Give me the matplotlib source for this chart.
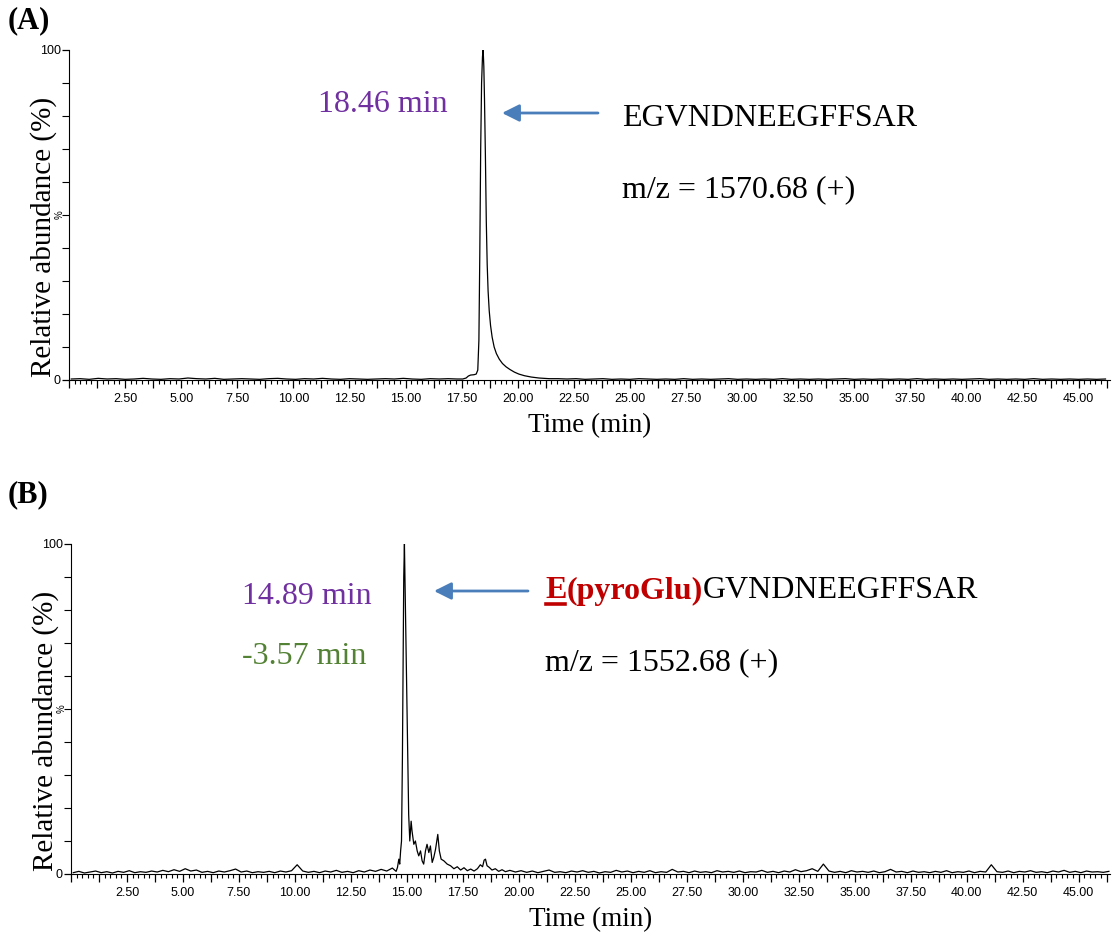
import numpy as np
import matplotlib
matplotlib.use("Agg")
import matplotlib.pyplot as plt
from matplotlib.ticker import MultipleLocator, FuncFormatter
from matplotlib.lines import Line2D
from matplotlib.patches import FancyArrowPatch
from matplotlib.text import Annotation

# ---------------- data ----------------
# (A) EGVNDNEEGFFSAR, baseline before / after the peak (0.4 min scans)
a_pre_start, a_pre_step = 0.1, 0.4
a_pre = [0.3, 0.4, 0.2, 0.5, 0.3, 0.4, 0.2, 0.3, 0.5, 0.3, 0.2, 0.4,
         0.3, 0.6, 0.4, 0.3, 0.5, 0.2, 0.3, 0.4, 0.3, 0.2, 0.4, 0.5,
         0.3, 0.2, 0.4, 0.3, 0.5, 0.3, 0.2, 0.4, 0.3, 0.2, 0.3, 0.4,
         0.3, 0.5, 0.3, 0.2, 0.4, 0.3, 0.4, 0.3]
a_peak_t = [17.55, 17.70, 17.80, 17.90, 18.05, 18.15, 18.22, 18.27, 18.31,
            18.35, 18.39, 18.43, 18.46, 18.49, 18.52, 18.56, 18.60, 18.64,
            18.68, 18.73, 18.79, 18.86, 18.95, 19.05, 19.18, 19.32, 19.48,
            19.65, 19.85, 20.05, 20.30, 20.60, 20.95, 21.40]
a_peak_y = [0.3, 0.6, 1.2, 1.5, 1.6, 1.8, 3.0, 12.0, 38.0,
            70.0, 90.0, 98.0, 100.0, 95.0, 85.0, 68.0, 48.0, 35.0,
            27.0, 21.0, 16.5, 13.0, 10.0, 8.0, 6.3, 5.0, 4.0,
            3.2, 2.4, 1.8, 1.3, 0.9, 0.6, 0.4]
a_post_start, a_post_step = 21.8, 0.4
a_post = [0.4, 0.3, 0.4, 0.2, 0.3, 0.4, 0.2, 0.3, 0.2, 0.4, 0.3, 0.2,
          0.3, 0.2, 0.4, 0.2, 0.3, 0.2, 0.3, 0.4, 0.2, 0.3, 0.2, 0.3,
          0.2, 0.4, 0.2, 0.3, 0.2, 0.3, 0.2, 0.3, 0.4, 0.2, 0.3, 0.2,
          0.3, 0.2, 0.3, 0.2, 0.4, 0.2, 0.3, 0.2, 0.3, 0.2, 0.3, 0.4,
          0.2, 0.3, 0.2, 0.3, 0.2, 0.4, 0.2, 0.3, 0.2, 0.3, 0.2, 0.3,
          0.2, 0.3]

# (B) E(pyroGlu)GVNDNEEGFFSAR (0.25 min scans on the baseline)
b_pre_start, b_pre_step = 0.1, 0.25
b_pre = [0.4, 0.8, 0.3, 0.6, 0.9, 0.4, 0.7, 0.3, 0.8, 0.5, 1.0, 0.4,
         0.7, 0.5, 0.9, 0.6, 1.1, 0.7, 1.3, 0.8, 1.6, 0.9, 1.2, 0.5,
         0.8, 0.4, 0.9, 0.6, 1.0, 1.5, 0.6, 0.9, 0.4, 0.7, 0.5, 0.8,
         0.4, 0.9, 0.6, 1.0, 2.8, 0.9, 0.5, 0.8, 0.4, 0.9, 0.6, 1.1,
         0.5, 0.8, 0.4, 1.0, 0.6, 1.2, 0.8, 1.4, 0.9, 1.8]
b_peak_t = [14.45, 14.52, 14.58, 14.64, 14.68, 14.72, 14.76, 14.80, 14.83,
            14.86, 14.89, 14.92, 14.95, 14.98, 15.03, 15.08, 15.13, 15.19,
            15.23, 15.31, 15.38, 15.46, 15.53, 15.61, 15.68, 15.75, 15.83,
            15.90, 15.98, 16.05, 16.13, 16.20, 16.28, 16.38, 16.45, 16.53,
            16.65, 16.80, 16.95, 17.10, 17.25, 17.40, 17.55, 17.70, 17.85,
            18.00, 18.15, 18.28, 18.38, 18.45, 18.51, 18.58, 18.68, 18.80,
            18.95, 19.10, 19.25, 19.40]
b_peak_y = [1.2, 0.8, 2.0, 4.5, 3.0, 7.0, 10.0, 35.0, 62.0,
            90.0, 100.0, 87.0, 74.0, 60.0, 41.0, 18.0, 10.0, 16.0,
            13.0, 9.0, 10.0, 7.0, 5.5, 7.0, 4.0, 3.0, 7.0,
            9.0, 6.5, 8.5, 3.5, 5.0, 7.5, 12.0, 7.0, 4.5,
            4.0, 3.0, 2.5, 1.6, 2.2, 1.2, 1.9, 1.0, 1.5,
            0.9, 1.6, 2.8, 2.2, 4.2, 4.5, 2.5, 2.0, 1.2,
            1.6, 0.8, 1.3, 0.7]
b_post_start, b_post_step = 19.6, 0.25
b_post = [1.1, 0.6, 1.0, 0.5, 0.9, 0.4, 0.8, 1.2, 0.5, 0.7, 0.4, 0.9,
          0.6, 1.0, 0.5, 0.8, 0.3, 0.7, 0.5, 1.1, 0.6, 0.9, 0.4, 0.8,
          0.5, 1.0, 0.4, 0.7, 0.5, 1.4, 0.6, 0.8, 0.4, 0.9, 0.5, 0.7,
          0.4, 1.0, 0.6, 0.8, 0.5, 0.9, 0.4, 0.7, 0.6, 1.1, 0.5, 0.8,
          0.4, 0.9, 0.6, 1.3, 0.7, 1.0, 1.6, 0.8, 3.0, 0.9, 0.5, 0.8,
          0.4, 1.0, 0.6, 0.8, 0.5, 0.9, 0.4, 0.7, 1.4, 0.6, 0.8, 0.4,
          0.9, 0.5, 0.7, 0.4, 0.8, 0.5, 1.0, 0.4, 0.7, 0.5, 0.9, 0.4,
          0.8, 0.6, 2.8, 0.7, 0.5, 0.9, 0.4, 0.8, 0.6, 1.0, 0.5, 0.7,
          0.4, 0.9, 0.6, 1.1, 0.5, 0.8, 0.4, 0.9, 0.6, 0.7, 0.5, 0.8]

panels = [
    {"tag": "(A)", "rt": "18.46 min", "shift": None, "peptide": ("", "", "EGVNDNEEGFFSAR"),
     "mz": "m/z = 1570.68 (+)",
     "pre": (a_pre_start, a_pre_step, a_pre), "peak": (a_peak_t, a_peak_y),
     "post": (a_post_start, a_post_step, a_post)},
    {"tag": "(B)", "rt": "14.89 min", "shift": "-3.57 min",
     "peptide": ("E", "(pyroGlu)", "GVNDNEEGFFSAR"),
     "mz": "m/z = 1552.68 (+)",
     "pre": (b_pre_start, b_pre_step, b_pre), "peak": (b_peak_t, b_peak_y),
     "post": (b_post_start, b_post_step, b_post)},
]

x_max = 46.4
serif = ["Liberation Serif", "DejaVu Serif"]
sans = ["Liberation Sans", "DejaVu Sans"]
purple = "#7030A0"
green = "#548235"
arrow_blue = "#4A7EBB"
dark_red = "#C00000"

fig = plt.figure(figsize=(11.12, 9.34), dpi=100)
W, H = 1112.0, 934.0

# axes boxes in pixels: left, top, right, bottom
boxes = [(69, 50, 1110, 380), (71, 544, 1110, 874)]
# text anchors in pixels
layout = [
    {"tag": (8, 21), "rt": (318, 104), "shift": None, "arrow": (598, 502, 113),
     "pep": (622, 118), "mz": (622, 190)},
    {"tag": (8, 495), "rt": (242, 596), "shift": (242, 657), "arrow": (528, 434, 591),
     "pep": (545, 591), "mz": (545, 663)},
]


def px(x, y):
    return x / W, 1 - y / H


def series(p):
    s0, ds, pre = p["pre"]
    t0, dt, post = p["post"]
    t = np.concatenate([s0 + ds * np.arange(len(pre)), p["peak"][0],
                        t0 + dt * np.arange(len(post))])
    y = np.concatenate([pre, p["peak"][1], post])
    return t, y


def tick_label(v, pos):
    k = round(v / 1.25)
    return "%.2f" % v if (k % 2 == 0 and v > 0) else ""


underline_targets = []
for p, box, lay in zip(panels, boxes, layout):
    l, t, r, b = box
    ax = fig.add_axes([l / W, 1 - b / H, (r - l) / W, (b - t) / H])
    tt, yy = series(p)
    ax.plot(tt, yy, color="black", lw=0.9)
    ax.set_xlim(0, x_max)
    ax.set_ylim(0, 100)
    for side in ("top", "right"):
        ax.spines[side].set_visible(False)

    ax.xaxis.set_major_locator(MultipleLocator(1.25))
    ax.xaxis.set_minor_locator(MultipleLocator(0.25))
    ax.xaxis.set_major_formatter(FuncFormatter(tick_label))
    ax.set_yticks([0, 100])
    ax.yaxis.set_minor_locator(MultipleLocator(10))
    ax.tick_params(axis="x", which="major", length=6, width=0.9, pad=3, labelsize=9)
    ax.tick_params(axis="x", which="minor", length=3, width=0.8)
    ax.tick_params(axis="y", which="major", length=5, width=0.9, pad=1, labelsize=9)
    ax.tick_params(axis="y", which="minor", length=5, width=0.8)
    for lab in ax.get_xticklabels() + ax.get_yticklabels():
        lab.set_family(sans)

    ax.set_xlabel("Time (min)", family=serif, fontsize=19.5)
    ax.xaxis.set_label_coords(0.5, -33 / (b - t))
    ax.set_ylabel("Relative abundance (%)", family=serif, fontsize=21)
    ax.yaxis.set_label_coords(-12 / (r - l), 0.433)
    ax.text(-9 / (r - l), 0.5, "%", transform=ax.transAxes, rotation=90, fontsize=7,
            family=sans, ha="center", va="center")

    fig.text(*px(*lay["tag"]), p["tag"], family=serif, fontsize=22,
             fontweight="bold", va="center", ha="left")
    fig.text(*px(*lay["rt"]), p["rt"], family=serif, fontsize=23, color=purple,
             va="center", ha="left")
    if p["shift"]:
        fig.text(*px(*lay["shift"]), p["shift"], family=serif, fontsize=23,
                 color=green, va="center", ha="left")

    x0, x1, ya = lay["arrow"]
    fig.add_artist(FancyArrowPatch(
        px(x0, ya), px(x1, ya), transform=fig.transFigure, arrowstyle="-|>",
        mutation_scale=26, lw=2, color=arrow_blue, shrinkA=0, shrinkB=0))

    first, mod, rest = p["peptide"]
    if first:
        t1 = fig.text(*px(*lay["pep"]), first, family=serif, fontsize=23,
                      fontweight="bold", color=dark_red, va="center", ha="left")
        t2 = fig.add_artist(Annotation(
            mod, xy=(1, 0), xycoords=t1, va="bottom", ha="left", family=serif,
            fontsize=23, fontweight="bold", color=dark_red))
        fig.add_artist(Annotation(
            rest, xy=(1, 0), xycoords=t2, va="bottom", ha="left", family=serif,
            fontsize=23, color="black"))
        underline_targets.append(t1)
    else:
        fig.text(*px(*lay["pep"]), rest, family=serif, fontsize=23,
                 va="center", ha="left")
    fig.text(*px(*lay["mz"]), p["mz"], family=serif, fontsize=23,
             va="center", ha="left")

# underline the modified residue
fig.canvas.draw()
renderer = fig.canvas.get_renderer()
for t1 in underline_targets:
    bb = t1.get_window_extent(renderer)
    y_line = bb.y0 + 2
    (fx0, fy), (fx1, _) = fig.transFigure.inverted().transform(
        [(bb.x0 + 1, y_line), (bb.x1 - 1, y_line)])
    fig.add_artist(Line2D([fx0, fx1], [fy, fy], color=dark_red, lw=2.6,
                          transform=fig.transFigure))

fig.savefig("out.png", dpi=100)
